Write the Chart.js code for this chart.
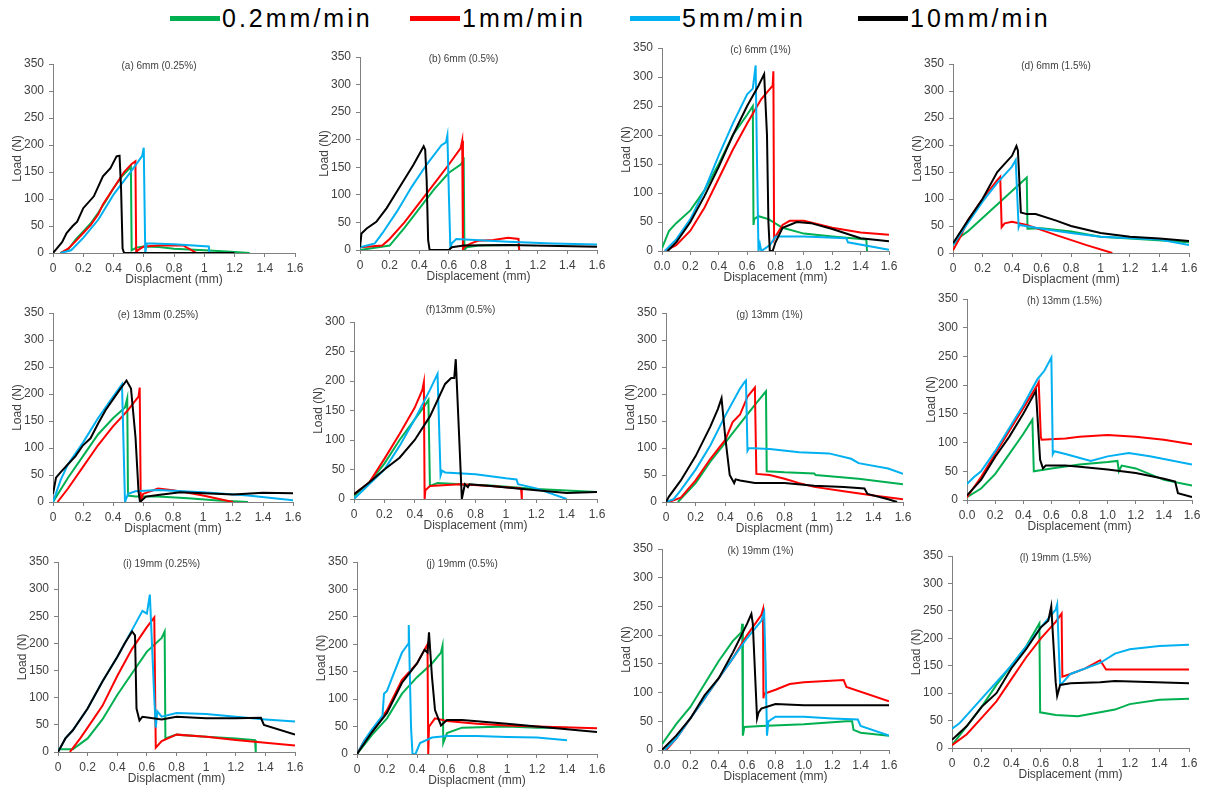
<!DOCTYPE html>
<html>
<head>
<meta charset="utf-8">
<script src="https://cdn.jsdelivr.net/npm/chart.js@4/dist/chart.umd.min.js"></script>
<style>
  body { margin: 0; background: #fff; }
  #wrap { position: relative; width: 1205px; height: 787px; overflow: hidden; font-family: "Liberation Sans", Arial, sans-serif; }
  .panel { position: absolute; }
  .key { position: absolute; top: 3px; height: 30px; font-size: 25px; letter-spacing: 3px; line-height: 30px; color: #000; white-space: nowrap; }
  .key i { position: absolute; left: 0; top: 13px; width: 50px; height: 5px; }
  .key span { position: absolute; left: 52px; }
</style>
</head>
<body>
<div id="wrap"></div>
<script>
// loading rates, one colour each
const rates = ['0.2mm/min', '1mm/min', '5mm/min', '10mm/min'];
const colors = ['#00b050', '#ff0000', '#00b0f0', '#000000'];

const panelTitles = ['(a) 6mm (0.25%)', '(b) 6mm (0.5%)', '(c) 6mm (1%)', '(d) 6mm (1.5%)',
  '(e) 13mm (0.25%)', '(f)13mm (0.5%)', '(g) 13mm (1%)', '(h) 13mm (1.5%)',
  '(i) 19mm (0.25%)', '(j) 19mm (0.5%)', '(k) 19mm (1%)', '(l) 19mm (1.5%)'];
const xTitles = ['Displacment (mm)', 'Displacement (mm)', 'Displacement (mm)', 'Displacment (mm)',
  'Displacment (mm)', 'Displacement (mm)', 'Displacment (mm)', 'Displacement (mm)',
  'Displacment (mm)', 'Displacment (mm)', 'Displacement (mm)', 'Displacement (mm)'];
const yMax = [350, 350, 350, 350, 350, 300, 350, 350, 350, 350, 350, 350];
const xTicksFixed = [false, false, true, false, false, false, false, true, false, false, true, false];

// [displacement mm, load N] for each panel, rates 0.2 / 1 / 5 / 10 mm/min
const a_02 = [[0.05,0],[0.1,6],[0.15,25],[0.2,40],[0.25,55],[0.3,75],[0.35,97],[0.4,120],[0.45,140],[0.5,155],[0.515,160],[0.52,5],[0.55,10],[0.6,12],[0.7,11],[0.8,8],[1.0,5],[1.15,3],[1.3,0]];
const a_1 = [[0.05,0],[0.1,8],[0.15,22],[0.2,37],[0.25,52],[0.3,72],[0.33,90],[0.4,120],[0.47,150],[0.52,165],[0.545,170],[0.55,0],[0.56,5],[0.6,12],[0.7,14],[0.86,14],[0.95,0]];
const a_5 = [[0.05,0],[0.12,5],[0.2,28],[0.3,62],[0.4,108],[0.5,145],[0.57,172],[0.59,180],[0.6,195],[0.61,0],[0.62,18],[0.8,16],[1.03,12],[1.035,0]];
const a_10 = [[0,0],[0.03,10],[0.06,20],[0.09,37],[0.13,50],[0.16,58],[0.2,83],[0.27,105],[0.33,142],[0.38,157],[0.42,179],[0.44,180],[0.45,120],[0.46,8],[0.47,0],[1.2,0]];

const b_02 = [[0,0],[0.2,8],[0.3,40],[0.4,75],[0.5,110],[0.6,140],[0.68,155],[0.7,163],[0.705,0],[0.72,5],[0.8,8],[1.0,9],[1.07,9],[1.075,0]];
const b_1 = [[0,5],[0.15,8],[0.2,20],[0.3,50],[0.4,85],[0.5,120],[0.6,155],[0.68,185],[0.69,198],[0.695,0],[0.7,5],[0.75,12],[0.8,17],[0.9,18],[1.0,22],[1.07,20],[1.075,0]];
const b_5 = [[0,5],[0.1,12],[0.15,30],[0.25,70],[0.35,115],[0.45,155],[0.55,190],[0.58,195],[0.59,208],[0.6,100],[0.61,5],[0.62,12],[0.65,20],[1.0,15],[1.3,12],[1.6,10]];
const b_10 = [[0,5],[0.01,30],[0.045,39],[0.11,51],[0.18,76],[0.27,115],[0.36,154],[0.43,188],[0.44,182],[0.45,127],[0.46,18],[0.47,0],[0.6,0],[0.62,5],[0.7,8],[1.0,9],[1.6,6]];

const c_02 = [[0,5],[0.05,35],[0.1,48],[0.2,70],[0.3,105],[0.4,150],[0.5,200],[0.6,235],[0.64,250],[0.645,45],[0.65,55],[0.68,60],[0.75,55],[0.85,40],[1.0,30],[1.2,25],[1.44,20],[1.445,0]];
const c_1 = [[0.02,0],[0.1,10],[0.2,35],[0.3,75],[0.4,125],[0.5,175],[0.6,220],[0.7,262],[0.78,285],[0.785,310],[0.79,20],[0.8,25],[0.85,45],[0.9,52],[1.0,52],[1.2,40],[1.4,32],[1.6,28]];
const c_5 = [[0.02,0],[0.1,20],[0.2,55],[0.3,105],[0.4,165],[0.5,220],[0.6,270],[0.64,280],[0.66,320],[0.67,150],[0.68,0],[0.69,12],[0.7,0],[0.76,10],[0.8,25],[1.0,25],[1.3,22],[1.31,15],[1.6,2]];
const c_10 = [[0.04,0],[0.1,15],[0.2,50],[0.3,95],[0.4,145],[0.5,200],[0.6,250],[0.68,285],[0.72,305],[0.74,200],[0.75,50],[0.76,0],[0.78,0],[0.8,15],[0.85,40],[0.95,50],[1.05,48],[1.2,38],[1.4,22],[1.6,17]];

const d_02 = [[0,15],[0.05,30],[0.1,40],[0.2,65],[0.3,90],[0.4,115],[0.5,140],[0.505,45],[0.6,46],[0.8,40],[1.0,30],[1.2,27],[1.6,20]];
const d_1 = [[0,5],[0.05,30],[0.1,60],[0.2,100],[0.3,135],[0.32,141],[0.33,48],[0.35,55],[0.4,58],[0.5,52],[0.7,33],[0.9,15],[1.08,0]];
const d_5 = [[0,15],[0.1,55],[0.2,95],[0.3,130],[0.4,160],[0.425,172],[0.445,48],[0.45,52],[0.6,45],[0.8,37],[1.0,30],[1.4,25],[1.6,15]];
const d_10 = [[0,18],[0.1,60],[0.2,100],[0.3,150],[0.35,165],[0.4,180],[0.43,198],[0.44,190],[0.46,75],[0.5,72],[0.56,72],[0.7,60],[0.8,50],[1.0,37],[1.2,30],[1.4,27],[1.6,22]];

const e_02 = [[0,0],[0.1,45],[0.2,85],[0.3,125],[0.4,155],[0.48,175],[0.495,192],[0.5,12],[0.55,10],[0.7,10],[0.9,7],[1.1,3],[1.3,0]];
const e_1 = [[0.03,0],[0.1,25],[0.2,65],[0.3,105],[0.4,140],[0.5,170],[0.57,195],[0.578,212],[0.585,0],[0.6,15],[0.7,25],[0.8,22],[1.0,12],[1.2,0]];
const e_5 = [[0,0],[0.05,40],[0.1,70],[0.2,110],[0.3,155],[0.4,195],[0.46,218],[0.48,0],[0.5,15],[0.55,20],[0.7,22],[1.0,18],[1.3,12],[1.6,3]];
const e_10 = [[0,15],[0.02,45],[0.05,55],[0.1,70],[0.15,85],[0.2,105],[0.25,118],[0.3,145],[0.35,170],[0.4,190],[0.45,210],[0.49,225],[0.52,210],[0.55,120],[0.57,20],[0.58,0],[0.6,5],[0.62,10],[0.7,13],[0.85,18],[1.2,14],[1.4,17],[1.6,16]];

const f_02 = [[0,5],[0.1,28],[0.2,60],[0.3,100],[0.4,135],[0.47,160],[0.49,168],[0.5,22],[0.55,27],[0.7,25],[0.9,23],[1.2,17],[1.6,12]];
const f_1 = [[0,8],[0.1,28],[0.2,68],[0.3,110],[0.4,155],[0.45,185],[0.46,198],[0.465,0],[0.47,15],[0.5,22],[0.7,25],[0.9,22],[1.1,18],[1.105,0]];
const f_5 = [[0,0],[0.1,25],[0.2,50],[0.3,90],[0.4,135],[0.5,185],[0.55,212],[0.57,40],[0.58,48],[0.6,45],[0.8,42],[1.0,35],[1.07,33],[1.08,25],[1.2,18],[1.4,0]];
const f_10 = [[0,8],[0.1,28],[0.2,50],[0.3,70],[0.4,100],[0.5,140],[0.6,195],[0.64,205],[0.66,205],[0.67,237],[0.69,120],[0.71,0],[0.73,25],[0.75,20],[0.76,25],[0.9,22],[1.2,15],[1.4,10],[1.6,12]];

const g_02 = [[0.08,0],[0.2,35],[0.3,75],[0.4,110],[0.5,145],[0.6,180],[0.675,205],[0.68,57],[0.8,55],[1.0,53],[1.01,50],[1.3,43],[1.6,33]];
const g_1 = [[0.02,0],[0.1,8],[0.2,40],[0.3,80],[0.4,115],[0.45,148],[0.5,162],[0.55,195],[0.6,212],[0.61,52],[0.7,50],[0.8,43],[0.9,35],[1.0,28],[1.2,20],[1.4,12],[1.6,5]];
const g_5 = [[0,0],[0.05,5],[0.1,22],[0.2,60],[0.3,105],[0.4,160],[0.5,210],[0.53,222],[0.54,225],[0.55,95],[0.56,100],[0.7,98],[0.9,92],[1.1,90],[1.25,80],[1.3,72],[1.5,62],[1.6,52]];
const g_10 = [[0,0],[0.02,10],[0.1,40],[0.2,85],[0.3,140],[0.35,172],[0.375,192],[0.4,120],[0.43,50],[0.46,35],[0.47,42],[0.5,40],[0.6,35],[0.8,35],[1.0,30],[1.2,28],[1.34,25],[1.36,15],[1.5,5],[1.56,0]];

const h_02 = [[0,5],[0.1,20],[0.2,45],[0.3,80],[0.4,115],[0.465,140],[0.475,50],[0.6,55],[0.8,62],[1.0,66],[1.07,68],[1.08,50],[1.1,60],[1.2,55],[1.4,35],[1.6,25]];
const h_1 = [[0,5],[0.1,40],[0.2,80],[0.3,120],[0.4,160],[0.5,200],[0.51,205],[0.525,110],[0.53,105],[0.7,107],[0.8,110],[1.0,113],[1.2,110],[1.4,105],[1.6,97]];
const h_5 = [[0,28],[0.05,40],[0.1,50],[0.2,85],[0.3,125],[0.4,165],[0.5,210],[0.55,225],[0.6,248],[0.61,80],[0.62,85],[0.7,80],[0.88,68],[1.0,76],[1.15,82],[1.3,76],[1.6,62]];
const h_10 = [[0,8],[0.1,35],[0.2,75],[0.3,110],[0.4,150],[0.49,190],[0.52,70],[0.54,55],[0.56,60],[0.7,60],[0.8,58],[1.0,53],[1.2,47],[1.4,37],[1.48,32],[1.5,12],[1.6,5]];

const i_02 = [[0,5],[0.1,5],[0.2,25],[0.3,60],[0.4,105],[0.5,145],[0.6,185],[0.7,210],[0.72,222],[0.725,25],[0.8,32],[1.0,28],[1.2,25],[1.33,22],[1.335,0]];
const i_1 = [[0.08,0],[0.15,25],[0.2,45],[0.3,85],[0.4,140],[0.5,190],[0.6,230],[0.65,248],[0.66,8],[0.7,20],[0.8,32],[1.0,28],[1.2,22],[1.6,12]];
const i_5 = [[0,0],[0.05,25],[0.1,40],[0.2,80],[0.3,130],[0.4,175],[0.5,225],[0.57,260],[0.6,255],[0.62,290],[0.65,100],[0.66,45],[0.67,75],[0.7,65],[0.8,72],[1.0,70],[1.2,65],[1.4,60],[1.6,56]];
const i_10 = [[0,0],[0.05,25],[0.1,40],[0.2,80],[0.3,130],[0.4,175],[0.45,200],[0.5,222],[0.52,215],[0.53,80],[0.55,58],[0.57,65],[0.7,60],[0.8,65],[1.0,62],[1.2,62],[1.37,63],[1.39,50],[1.6,32]];

const j_02 = [[0,0],[0.1,35],[0.2,65],[0.3,110],[0.4,140],[0.5,165],[0.56,185],[0.57,197],[0.575,20],[0.6,38],[0.7,48],[1.0,50],[1.2,48],[1.4,48]];
const j_1 = [[0,0],[0.05,25],[0.1,40],[0.2,80],[0.3,135],[0.4,165],[0.47,200],[0.475,0],[0.48,50],[0.52,65],[0.6,60],[0.8,55],[1.0,52],[1.2,50],[1.6,47]];
const j_5 = [[0,0],[0.05,25],[0.1,45],[0.17,70],[0.18,110],[0.2,115],[0.25,150],[0.3,185],[0.34,200],[0.345,235],[0.36,50],[0.37,0],[0.39,0],[0.42,20],[0.5,30],[0.6,33],[0.8,33],[1.0,31],[1.2,30],[1.4,25]];
const j_10 = [[0,0],[0.1,40],[0.2,75],[0.3,130],[0.4,165],[0.45,190],[0.47,185],[0.48,222],[0.5,140],[0.52,80],[0.56,52],[0.6,62],[0.7,62],[1.0,55],[1.2,50],[1.4,45],[1.6,40]];

const k_02 = [[0,10],[0.1,45],[0.2,75],[0.3,115],[0.4,155],[0.5,190],[0.56,205],[0.565,220],[0.57,25],[0.58,40],[0.7,42],[1.0,45],[1.3,50],[1.34,50],[1.35,35],[1.4,30],[1.6,25]];
const k_1 = [[0.03,0],[0.1,20],[0.2,55],[0.3,90],[0.4,125],[0.5,160],[0.6,200],[0.7,235],[0.712,245],[0.715,90],[0.72,98],[0.8,105],[0.9,115],[1.0,118],[1.28,122],[1.3,110],[1.6,85]];
const k_5 = [[0.02,0],[0.1,20],[0.2,55],[0.3,90],[0.4,125],[0.5,160],[0.6,195],[0.7,225],[0.72,240],[0.73,150],[0.74,25],[0.75,50],[0.8,58],[1.0,58],[1.2,55],[1.38,53],[1.4,42],[1.6,25]];
const k_10 = [[0,0],[0.1,25],[0.2,55],[0.3,95],[0.4,125],[0.5,170],[0.58,210],[0.6,220],[0.63,237],[0.64,220],[0.67,55],[0.68,65],[0.7,72],[0.8,80],[1.0,78],[1.2,78],[1.6,78]];

const l_02 = [[0,5],[0.1,40],[0.2,75],[0.3,115],[0.4,150],[0.5,185],[0.59,227],[0.595,65],[0.7,60],[0.85,58],[1.0,65],[1.1,70],[1.2,80],[1.4,88],[1.6,90]];
const l_1 = [[0,5],[0.1,25],[0.2,55],[0.3,85],[0.4,125],[0.5,165],[0.6,200],[0.7,230],[0.74,245],[0.745,130],[0.8,135],[0.9,145],[1.0,160],[1.04,143],[1.2,143],[1.6,143]];
const l_5 = [[0,35],[0.05,45],[0.1,60],[0.2,90],[0.3,120],[0.4,150],[0.5,185],[0.6,220],[0.7,252],[0.71,262],[0.73,115],[0.75,120],[0.8,135],[1.0,155],[1.1,172],[1.2,180],[1.4,186],[1.6,188]];
const l_10 = [[0,15],[0.1,40],[0.2,75],[0.3,100],[0.4,145],[0.5,180],[0.6,220],[0.65,232],[0.67,258],[0.7,120],[0.71,95],[0.73,115],[0.8,118],[1.0,120],[1.1,122],[1.6,118]];

const panelSeries = [
  [a_02, a_1, a_5, a_10], [b_02, b_1, b_5, b_10], [c_02, c_1, c_5, c_10], [d_02, d_1, d_5, d_10],
  [e_02, e_1, e_5, e_10], [f_02, f_1, f_5, f_10], [g_02, g_1, g_5, g_10], [h_02, h_1, h_5, h_10],
  [i_02, i_1, i_5, i_10], [j_02, j_1, j_5, j_10], [k_02, k_1, k_5, k_10], [l_02, l_1, l_5, l_10]
];

// plot area of each panel on the page: left, top, right, bottom
const plotBoxes = [
  [53, 64, 295, 253], [360, 57, 597, 250], [662, 48, 889, 251], [953, 64, 1189, 253],
  [53, 313, 293, 502], [354, 322, 597, 499], [666, 313, 903, 502], [967, 299, 1192, 500],
  [58, 562, 295, 752], [357, 562, 597, 754], [662, 549, 889, 750], [952, 556, 1189, 748]
];
const FONT = '"Liberation Sans", Arial, sans-serif';
const AXIS_W = 50, AXIS_H = 36, PAD_TOP = 20, PAD_RIGHT = 14;

const wrap = document.getElementById('wrap');

// legend strip across the top
const keyLeft = [170, 410, 630, 858];
rates.forEach((r, k) => {
  const key = document.createElement('div');
  key.className = 'key';
  key.style.left = keyLeft[k] + 'px';
  key.innerHTML = '<i style="background:' + colors[k] + '"></i><span>' + r + '</span>';
  wrap.appendChild(key);
});

// small caption inside the top of each plot
const titlePlugin = {
  id: 'panelTitle',
  afterDraw(chart, args, opts) {
    const { ctx, chartArea } = chart;
    ctx.save();
    ctx.font = '10px ' + FONT;
    ctx.fillStyle = '#404040';
    ctx.textAlign = 'center';
    ctx.textBaseline = 'middle';
    ctx.fillText(opts.text, (chartArea.left + chartArea.right) / 2 - 15, chartArea.top + opts.dy);
    ctx.restore();
  }
};

panelSeries.forEach((series, p) => {
  const [l, t, r, b] = plotBoxes[p];
  const box = document.createElement('div');
  box.className = 'panel';
  box.style.left = (l - AXIS_W) + 'px';
  box.style.top = (t - PAD_TOP) + 'px';
  const cv = document.createElement('canvas');
  cv.width = (r - l) + AXIS_W + PAD_RIGHT;
  cv.height = (b - t) + PAD_TOP + AXIS_H;
  box.appendChild(cv);
  wrap.appendChild(box);

  const fixed = xTicksFixed[p];
  new Chart(cv, {
    type: 'line',
    data: {
      datasets: series.map((pts, k) => ({
        label: rates[k],
        data: pts,
        borderColor: colors[k],
        backgroundColor: colors[k],
        borderWidth: 2,
        pointRadius: 0,
        tension: 0,
        order: 3 - k
      }))
    },
    options: {
      responsive: false,
      animation: false,
      events: [],
      layout: { padding: { left: 0, top: PAD_TOP, right: PAD_RIGHT, bottom: 0 } },
      plugins: {
        legend: { display: false },
        tooltip: { enabled: false },
        panelTitle: { text: panelTitles[p], dy: p === 5 ? -12 : 2 }
      },
      scales: {
        x: {
          type: 'linear', min: 0, max: 1.6,
          ticks: {
            stepSize: 0.2, padding: 4, color: '#404040', font: { family: FONT, size: 12 },
            callback: v => fixed ? v.toFixed(1) : String(Number(v.toFixed(1)))
          },
          grid: { drawOnChartArea: false, tickLength: 4, color: '#808080' },
          border: { color: '#808080' },
          title: { display: true, text: xTitles[p], color: '#404040', font: { family: FONT, size: 12 }, padding: { top: 0, bottom: 2 } },
          afterFit: s => { s.height = AXIS_H; }
        },
        y: {
          min: 0, max: yMax[p],
          ticks: { stepSize: 50, padding: 5, color: '#404040', font: { family: FONT, size: 12 } },
          grid: { drawOnChartArea: false, tickLength: 4, color: '#808080' },
          border: { color: '#808080' },
          title: { display: true, text: 'Load (N)', color: '#404040', font: { family: FONT, size: 12 }, padding: { top: 7, bottom: 0 } },
          afterFit: s => { s.width = AXIS_W; }
        }
      }
    },
    plugins: [titlePlugin]
  });
});
</script>
</body>
</html>
